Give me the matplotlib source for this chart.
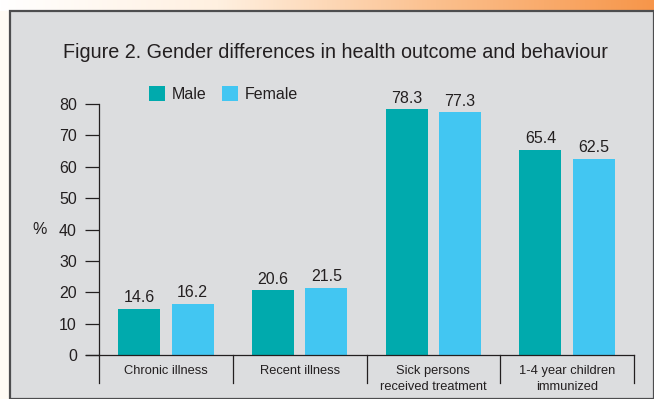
import numpy as np
import matplotlib
matplotlib.use("Agg")
import matplotlib.pyplot as plt
from matplotlib.patches import Rectangle
from matplotlib.colors import LinearSegmentedColormap

categories = ["Chronic illness", "Recent illness", "Sick persons\nreceived treatment",
              "1-4 year children\nimmunized"]
male = [14.6, 20.6, 78.3, 65.4]
female = [16.2, 21.5, 77.3, 62.5]
yticks = [0, 10, 20, 30, 40, 50, 60, 70, 80]

MALE_C = "#00AAAD"
FEMALE_C = "#42C6F2"
PANEL = "#DCDDDF"
TXT = "#231F20"
FONT = ["Liberation Sans", "DejaVu Sans"]

W, H = 654, 399
fig = plt.figure(figsize=(W / 100, H / 100), dpi=100)
fig.patch.set_facecolor("#FFFBF5")

# background: top orange gradient strip + gray panel
bg = fig.add_axes([0, 0, 1, 1])
bg.set_xlim(0, W)
bg.set_ylim(H, 0)
bg.axis("off")
grad = LinearSegmentedColormap.from_list("g", ["#FFFFFF", "#FFF0E0", "#FBC08E", "#F7964A"])
bg.imshow(np.linspace(0, 1, 256)[None, :], cmap=grad, aspect="auto",
          extent=[0, W, 11, 0])
bg.add_patch(Rectangle((10, 11), W - 10, H - 11, facecolor=PANEL,
                       edgecolor="#4D4D4F", linewidth=1.6))

# main axes: x from 99 to 634 px, y 0 at 355 px, 80 at 104 px
ax = fig.add_axes([99 / W, (H - 355) / H, 535 / W, 251 / H])
ax.set_facecolor("none")
x = np.arange(len(categories))
off, bw = 0.2, 0.315
ax.bar(x - off, male, bw, color=MALE_C, label="Male")
ax.bar(x + off, female, bw, color=FEMALE_C, label="Female")
for xi, m, f in zip(x, male, female):
    ax.text(xi - off, m + 1.2, f"{m}", ha="center", va="bottom", fontsize=11.5,
            color=TXT, family=FONT)
    ax.text(xi + off, f + 1.2, f"{f}", ha="center", va="bottom", fontsize=11.5,
            color=TXT, family=FONT)

ax.set_xlim(-0.5, len(categories) - 0.5)
ax.set_ylim(0, 80)
ax.set_yticks(yticks)
ax.set_yticklabels([str(t) for t in yticks], fontsize=11.5, color=TXT, family=FONT)
ax.tick_params(axis="y", direction="out", length=10, width=0.9, color="#231F20", pad=6)
ax.set_xticks([])
for s in ["top", "right"]:
    ax.spines[s].set_visible(False)
ax.spines["left"].set_color("#231F20")
ax.spines["left"].set_linewidth(0.9)
ax.spines["bottom"].set_color("#231F20")
ax.spines["bottom"].set_linewidth(0.9)
ax.spines["bottom"].set_bounds(-0.5 - 13 / 134, len(categories) - 0.5)

# category separators below the axis
for b in np.arange(len(categories) + 1) - 0.5:
    ax.plot([b, b], [0, -9], color="#231F20", lw=0.9, clip_on=False)
for xi, c in zip(x, categories):
    ax.text(xi, -3.2, c, ha="center", va="top", fontsize=9.3, color=TXT,
            family=FONT, linespacing=1.45)

ax.text(-0.5 - 60 / 134, 40, "%", ha="center", va="center", fontsize=11.5, color=TXT,
        family=FONT)

fig.text(0.5 + 8 / W, 1 - 52 / H, "Figure 2. Gender differences in health outcome and behaviour",
         ha="center", va="center", fontsize=14.2, color=TXT, family=FONT)

leg = ax.legend(loc="upper left", bbox_to_anchor=(44 / 535, 1 + 24 / 251), ncol=2,
                frameon=False, prop={"family": FONT, "size": 11.5},
                handlelength=1.0, handleheight=1.0, handletextpad=0.4,
                columnspacing=1.0, borderaxespad=0)
for t in leg.get_texts():
    t.set_color(TXT)

fig.savefig("out.png", dpi=100)
